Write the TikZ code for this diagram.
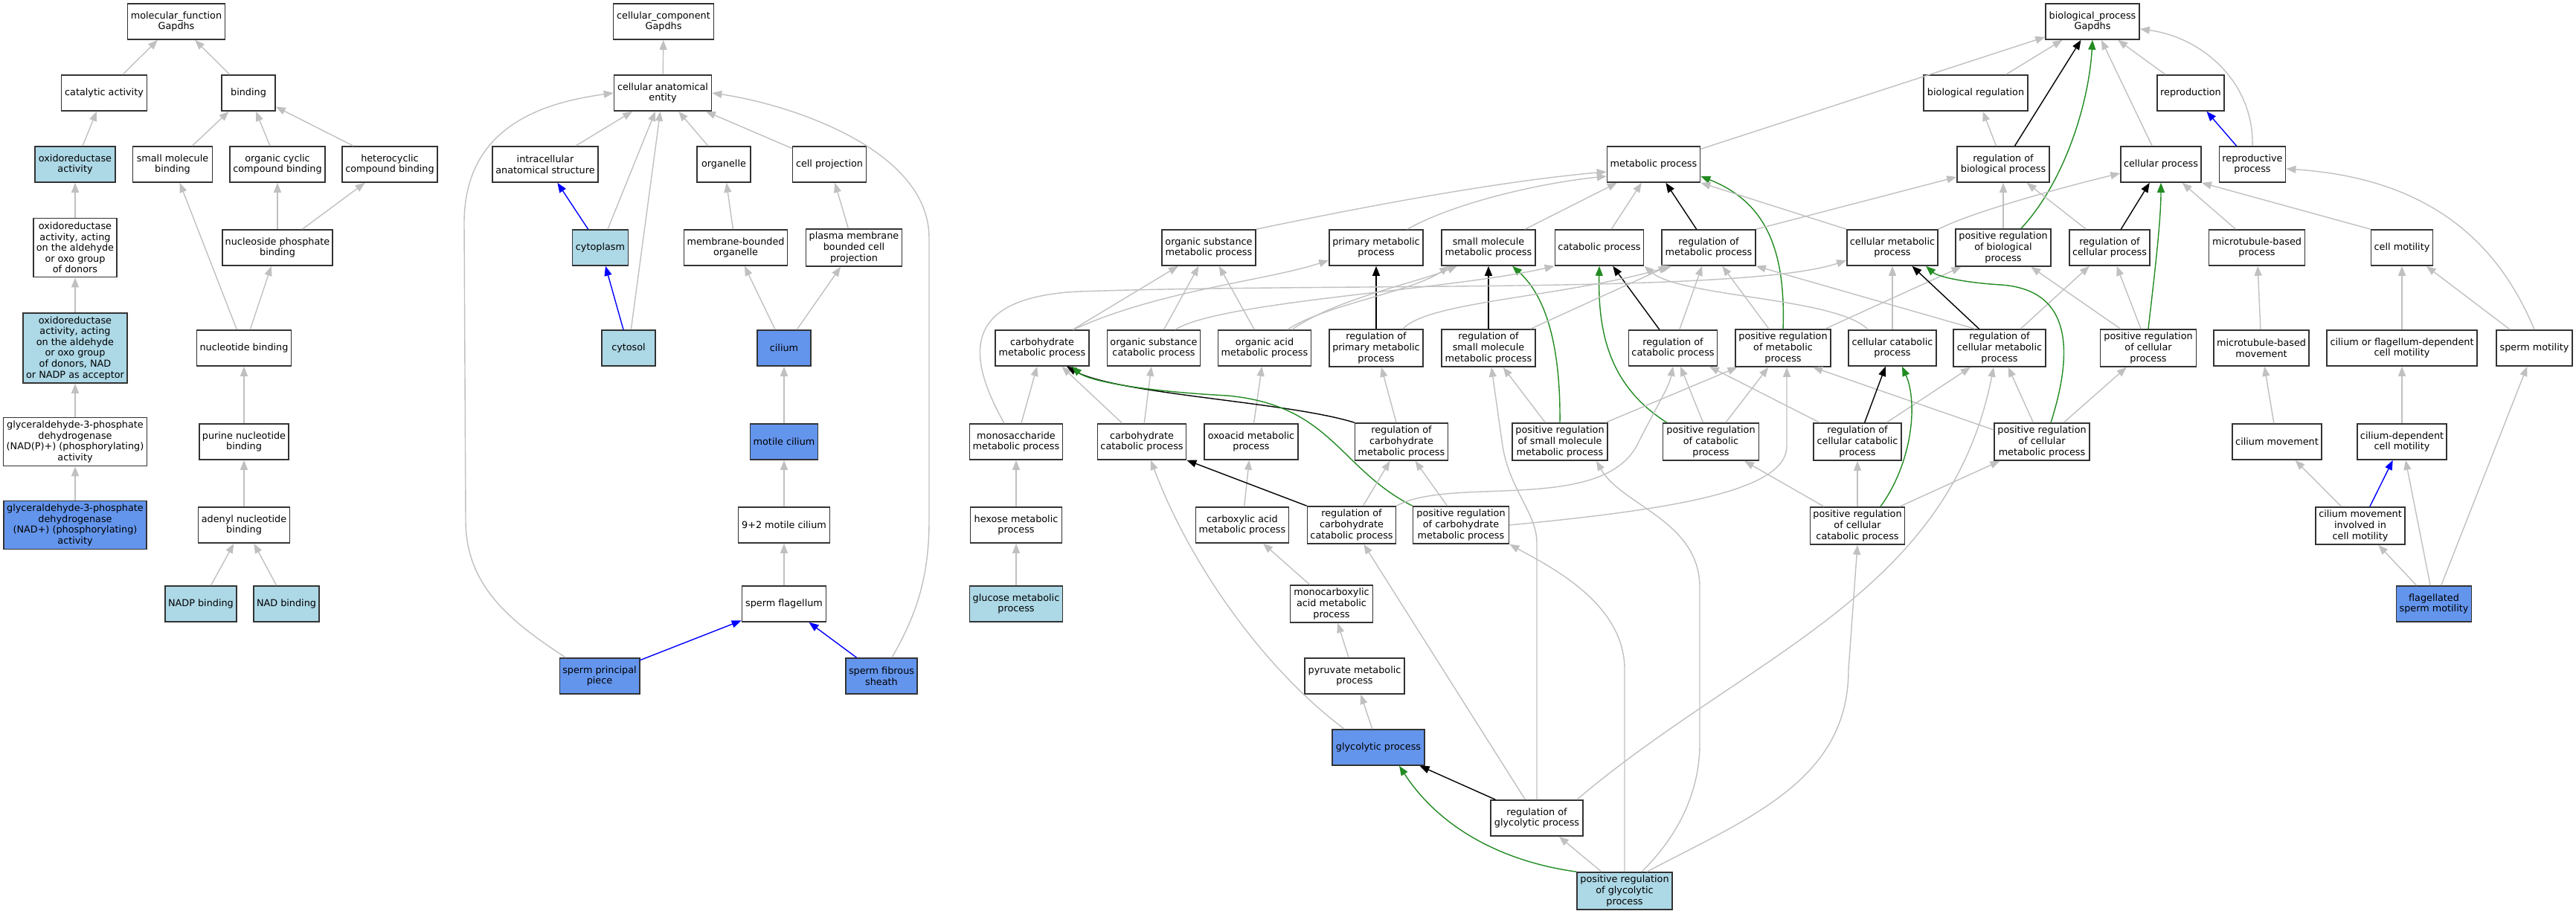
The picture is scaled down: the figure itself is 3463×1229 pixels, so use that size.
\documentclass[tikz,border=0pt]{standalone}
\usepackage{fontspec}
\setmainfont{DejaVu Sans}
\usetikzlibrary{arrows.meta,calc}

\definecolor{termlight}{HTML}{ADD8E6}
\definecolor{termcorn}{HTML}{6495ED}
\definecolor{edgegray}{HTML}{C0C0C0}
\definecolor{edgegreen}{HTML}{228B22}
\definecolor{boxline}{HTML}{333333}

\tikzset{every picture/.style={line width=0.75pt}}
\tikzset{
  gobox/.style={draw=boxline, line width=0.8pt, fill=white, rectangle, align=center,
    inner xsep=2pt, inner ysep=1pt, minimum height=24pt, font=\fontsize{6.4}{7.3}\selectfont},
  bw/.style={minimum width=#1*0.5pt},
  bh/.style={minimum height=#1*0.5pt},
  lit/.style={fill=termlight},
  ann/.style={fill=termcorn},
  isa/.style={draw=edgegray, line width=0.7pt, -{Triangle[length=6.5pt,width=5pt]}},
  regl/.style={isa, draw=black},
  posreg/.style={isa, draw=edgegreen},
  partof/.style={isa, draw=blue}
}

\begin{document}
\begin{tikzpicture}[x=0.5pt,y=0.5pt,yscale=-1,xscale=1]
\useasboundingbox (0,0) rectangle (3463,1229);

% Molecular function boxes
\node[gobox, bw=131] (mf) at (237,29) {molecular\_function\\Gapdhs};
\node[gobox, bw=115] (cat) at (140,125) {catalytic activity};
\node[gobox, bw=72] (bind) at (334,125) {binding};
\node[gobox, lit, bw=108] (oxr) at (101,221) {oxidoreductase\\activity};
\node[gobox, bw=107] (smb) at (232,221) {small molecule\\binding};
\node[gobox, bw=126] (ocb) at (373,221) {organic cyclic\\compound binding};
\node[gobox, bw=127] (hcb) at (524,221) {heterocyclic\\compound binding};
\node[gobox, bw=110, bh=79] (oxald) at (101,333) {oxidoreductase\\activity, acting\\on the aldehyde\\or oxo group\\of donors};
\node[gobox, bw=148] (npb) at (373,333) {nucleoside phosphate\\binding};
\node[gobox, lit, bw=140, bh=94] (oxnad) at (101,468) {oxidoreductase\\activity, acting\\on the aldehyde\\or oxo group\\of donors, NAD\\or NADP as acceptor};
\node[gobox, bw=127] (ntb) at (328,468) {nucleotide binding};
\node[gobox, bw=193, bh=65] (gapdhp) at (101,594) {glyceraldehyde-3-phosphate\\dehydrogenase\\(NAD(P)+) (phosphorylating)\\activity};
\node[gobox, bw=118] (pnb) at (328,594) {purine nucleotide\\binding};
\node[gobox, ann, bw=192, bh=65] (gapdh) at (101,706) {glyceraldehyde-3-phosphate\\dehydrogenase\\(NAD+) (phosphorylating)\\activity};
\node[gobox, bw=123] (anb) at (328,706) {adenyl nucleotide\\binding};
\node[gobox, lit, bw=95] (nadpb) at (270,812) {NADP binding};
\node[gobox, lit, bw=86] (nadb) at (385,812) {NAD binding};

% Cellular component boxes
\node[gobox, bw=135] (cc) at (892,29) {cellular\_component\\Gapdhs};
\node[gobox, bw=131] (cae) at (891,125) {cellular anatomical\\entity};
\node[gobox, bw=142] (ias) at (733,221) {intracellular\\anatomical structure};
\node[gobox, bw=72] (org) at (973,221) {organelle};
\node[gobox, bw=99] (cpj) at (1115,221) {cell projection};
\node[gobox, lit, bw=75] (cyto) at (807,333) {cytoplasm};
\node[gobox, bw=139] (mbo) at (989,333) {membrane-bounded\\organelle};
\node[gobox, bw=129, bh=50] (pmcp) at (1148,333) {plasma membrane\\bounded cell\\projection};
\node[gobox, lit, bw=72] (cytosol) at (845,468) {cytosol};
\node[gobox, ann, bw=72] (cil) at (1054,468) {cilium};
\node[gobox, ann, bw=91] (mcil) at (1054,594) {motile cilium};
\node[gobox, bw=123] (mc92) at (1054,706) {9+2 motile cilium};
\node[gobox, bw=113] (spfl) at (1054,812) {sperm flagellum};
\node[gobox, ann, bw=107] (sppp) at (806,909) {sperm principal\\piece};
\node[gobox, ann, bw=94] (spfs) at (1185,909) {sperm fibrous\\sheath};

% Biological process boxes
\node[gobox, bw=126] (bp) at (2813,29) {biological\_process\\Gapdhs};
\node[gobox, bw=140] (breg) at (2656,125) {biological regulation};
\node[gobox, bw=89] (repro) at (2945,125) {reproduction};
\node[gobox, bw=125] (met) at (2223,221) {metabolic process};
\node[gobox, bw=124] (rbp) at (2693,221) {regulation of\\biological process};
\node[gobox, bw=107] (cproc) at (2905,221) {cellular process};
\node[gobox, bw=88] (rproc) at (3028,221) {reproductive\\process};
\node[gobox, bw=126] (osmp) at (1625,333) {organic substance\\metabolic process};
\node[gobox, bw=126] (pmp) at (1850,333) {primary metabolic\\process};
\node[gobox, bw=126] (smmp) at (2001,333) {small molecule\\metabolic process};
\node[gobox, bw=118] (catp) at (2150,333) {catabolic process};
\node[gobox, bw=126] (rmp) at (2297,333) {regulation of\\metabolic process};
\node[gobox, bw=122] (cmp) at (2544,333) {cellular metabolic\\process};
\node[gobox, bw=128, bh=50] (prbp) at (2693,333) {positive regulation\\of biological\\process};
\node[gobox, bw=107] (rcp) at (2836,333) {regulation of\\cellular process};
\node[gobox, bw=129] (mtbp) at (3034,333) {microtubule-based\\process};
\node[gobox, bw=83] (cmot) at (3229,333) {cell motility};
\node[gobox, bw=126] (chmp) at (1401,468) {carbohydrate\\metabolic process};
\node[gobox, bw=123] (oscp) at (1551,468) {organic substance\\catabolic process};
\node[gobox, bw=125] (oamp) at (1700,468) {organic acid\\metabolic process};
\node[gobox, bw=125, bh=50] (rpmp) at (1850,468) {regulation of\\primary metabolic\\process};
\node[gobox, bw=126, bh=50] (rsmmp) at (2001,468) {regulation of\\small molecule\\metabolic process};
\node[gobox, bw=118] (rcatp) at (2249,468) {regulation of\\catabolic process};
\node[gobox, bw=128, bh=50] (prmp) at (2397,468) {positive regulation\\of metabolic\\process};
\node[gobox, bw=118] (ccatp) at (2544,468) {cellular catabolic\\process};
\node[gobox, bw=124, bh=50] (rcmp) at (2688,468) {regulation of\\cellular metabolic\\process};
\node[gobox, bw=129, bh=50] (prcp) at (2888,468) {positive regulation\\of cellular\\process};
\node[gobox, bw=128] (mtbm) at (3040,468) {microtubule-based\\movement};
\node[gobox, bw=202] (cfcm) at (3229,468) {cilium or flagellum-dependent\\cell motility};
\node[gobox, bw=102] (spmot) at (3407,468) {sperm motility};
\node[gobox, bw=125] (msmp) at (1366,594) {monosaccharide\\metabolic process};
\node[gobox, bw=118] (chcp) at (1535,594) {carbohydrate\\catabolic process};
\node[gobox, bw=126] (oxmp) at (1682,594) {oxoacid metabolic\\process};
\node[gobox, bw=125, bh=50] (rchmp) at (1884,594) {regulation of\\carbohydrate\\metabolic process};
\node[gobox, bw=128, bh=50] (prsmmp) at (2097,594) {positive regulation\\of small molecule\\metabolic process};
\node[gobox, bw=129, bh=50] (prcatp) at (2300,594) {positive regulation\\of catabolic\\process};
\node[gobox, bw=118, bh=50] (rccp) at (2497,594) {regulation of\\cellular catabolic\\process};
\node[gobox, bw=128, bh=50] (prcmp) at (2745,594) {positive regulation\\of cellular\\metabolic process};
\node[gobox, bw=120] (cilm) at (3061,594) {cilium movement};
\node[gobox, bw=120] (cdcm) at (3229,594) {cilium-dependent\\cell motility};
\node[gobox, bw=123] (hxmp) at (1366,706) {hexose metabolic\\process};
\node[gobox, bw=125] (camp) at (1670,706) {carboxylic acid\\metabolic process};
\node[gobox, bw=118, bh=50] (rchcp) at (1817,706) {regulation of\\carbohydrate\\catabolic process};
\node[gobox, bw=129, bh=50] (prchmp) at (1964,706) {positive regulation\\of carbohydrate\\metabolic process};
\node[gobox, bw=127, bh=50] (prccp) at (2497,707) {positive regulation\\of cellular\\catabolic process};
\node[gobox, bw=120, bh=50] (cmcm) at (3173,707) {cilium movement\\involved in\\cell motility};
\node[gobox, lit, bw=125] (glmp) at (1366,812) {glucose metabolic\\process};
\node[gobox, bw=111, bh=50] (mcamp) at (1790,812) {monocarboxylic\\acid metabolic\\process};
\node[gobox, ann, bw=101] (fsm) at (3272,812) {flagellated\\sperm motility};
\node[gobox, bw=134] (pyrmp) at (1821,909) {pyruvate metabolic\\process};
\node[gobox, ann, bw=124] (glyp) at (1853,1005) {glycolytic process};
\node[gobox, bw=124] (rglyp) at (2066,1100) {regulation of\\glycolytic process};
\node[gobox, lit, bw=128, bh=50] (prglyp) at (2184,1198) {positive regulation\\of glycolytic\\process};

% Molecular function connectors
\draw[isa] (cat) -- (mf);
\draw[isa] (bind) -- (mf);
\draw[isa] (oxr) -- (cat);
\draw[isa] (smb) -- (bind);
\draw[isa] (ocb) -- (bind);
\draw[isa] (hcb) -- (bind);
\draw[isa] (oxald) -- (oxr);
\draw[isa] (oxnad) -- (oxald);
\draw[isa] (gapdhp) -- (oxnad);
\draw[isa] (gapdh) -- (gapdhp);
\draw[isa] (npb) -- (ocb);
\draw[isa] (npb) -- (hcb);
\draw[isa] (ntb) -- (npb);
\draw[isa] (ntb) -- (smb);
\draw[isa] (pnb) -- (ntb);
\draw[isa] (anb) -- (pnb);
\draw[isa] (nadpb) -- (anb);
\draw[isa] (nadb) -- (anb);

% Cellular component connectors
\draw[isa] (cae) -- (cc);
\draw[isa] (ias) -- (cae);
\draw[partof] (cyto) -- (ias);
\draw[isa] (cyto) -- (cae);
\draw[partof] (cytosol) -- (cyto);
\draw[isa] (cytosol) -- (cae);
\draw[isa] (org) -- (cae);
\draw[isa] (cpj) -- (cae);
\draw[isa] (mbo) -- (org);
\draw[isa] (pmcp) -- (cpj);
\draw[isa] (cil) -- (mbo);
\draw[isa] (cil) -- (pmcp);
\draw[isa] (mcil) -- (cil);
\draw[isa] (mc92) -- (mcil);
\draw[isa] (spfl) -- (mc92);
\draw[partof] (sppp) -- (spfl);
\draw[partof] (spfs) -- (spfl);
\draw[isa] ($(sppp.north west)+(9,0)$) .. controls (690,838) and (626,790) .. (626,700) -- (624,300) .. controls (624,170) and (730,138) .. (cae.west);
\draw[isa] ($(spfs.north)+(14,0)$) .. controls (1230,830) and (1249,780) .. (1249,700) -- (1249,320) .. controls (1249,200) and (1060,140) .. (cae.east);

% Biological process connectors, upper part
\draw[isa] (breg) -- (bp);
\draw[isa] (repro) -- (bp);
\draw[isa] (met) -- (bp);
\draw[regl] (rbp) -- (bp);
\draw[posreg] ($(prbp.north)+(24,0)$) .. controls (2775,245) and (2808,140) .. (bp.south);
\draw[isa] (cproc) -- (bp);
\draw[isa] (rproc.north) .. controls (3030,110) and (2960,50) .. ($(bp.east)+(0,10)$);
\draw[partof] (rproc) -- (repro);
\draw[isa] (rbp) -- (breg);
\draw[isa] (prbp) -- (rbp);
\draw[isa] (rcp) -- (rbp);
\draw[regl] (rcp) -- (cproc);
\draw[posreg] (prcp.north) .. controls (2895,380) and (2905,300) .. (cproc.south);
\draw[isa] (prcp) -- (rcp);
\draw[isa] (prcp) -- (prbp);
\draw[isa] (mtbp) -- (cproc);
\draw[isa] (cmot.north west) -- (cproc.south east);
\draw[isa] (mtbm) -- (mtbp);
\draw[isa] (cfcm) -- (cmot);
\draw[isa] (spmot) -- (cmot);
\draw[isa] (spmot.north) .. controls (3360,330) and (3270,240) .. ($(rproc.east)+(0,6)$);
\draw[isa] (cilm) -- (mtbm);
\draw[isa] (cdcm) -- (cfcm);
\draw[isa] (cmcm) -- (cilm);
\draw[partof] (cmcm) -- (cdcm);
\draw[isa] (fsm) -- (cmcm);
\draw[isa] (fsm) -- (cdcm);
\draw[isa] (fsm) -- (spmot);

% Metabolic and regulation connectors
\draw[isa] (osmp.north east) .. controls (1800,285) and (2000,245) .. ($(met.west)+(0,10)$);
\draw[isa] ($(pmp.north)+(42,0)$) .. controls (1960,270) and (2080,245) .. ($(met.west)+(0,16)$);
\draw[isa] (smmp) -- (met);
\draw[isa] (catp) -- (met);
\draw[regl] (rmp) -- (met);
\draw[posreg] (prmp.north) .. controls (2401,330) and (2370,270) .. ($(met.east)+(0,16)$);
\draw[isa] (cmp.north west) -- (met.south east);
\draw[isa] (cmp.north east) .. controls (2650,285) and (2780,250) .. ($(cproc.west)+(0,12)$);
\draw[isa] (rmp.north east) -- ($(rbp.west)+(0,17)$);
\draw[isa] (prmp) -- (rmp);
\draw[isa] (prmp) -- (prbp);
\draw[regl] (rcatp) -- (catp);
\draw[isa] (rcatp) -- (rmp);
\draw[isa] ($(ccatp.north west)+(27,0)$) .. controls (2470,400) and (2260,400) .. (catp.south east);
\draw[isa] (ccatp) -- (cmp);
\draw[regl] (rcmp) -- (cmp);
\draw[isa] ($(rcmp.north)+(-33,0)$) -- (rmp.south east);
\draw[isa] (rcmp) -- (rcp);
\draw[isa] (prcmp) -- (rcmp);
\draw[isa] (prcmp) -- (prcp);
\draw[isa] ($(prcmp.west)+(0,-16)$) -- ($(prmp.south)+(40,0)$);
\draw[posreg] ($(prcmp.north)+(12,0)$) .. controls (2785,480) and (2790,390) .. (2690,383) .. controls (2640,380) and (2605,372) .. ($(cmp.south)+(45,0)$);
\draw[regl] (rccp) -- (ccatp);
\draw[isa] (rccp) -- (rcatp);
\draw[isa] (rccp) -- (rcmp);
\draw[posreg] ($(prccp.north)+(31,0)$) .. controls (2572,620) and (2578,540) .. ($(ccatp.south)+(13,0)$);
\draw[isa] (prccp) -- (rccp);
\draw[isa] (prccp) -- (prcatp);
\draw[isa] (prccp) -- (prcmp);
\draw[posreg] ($(prcatp.north west)+(6,0)$) .. controls (2165,520) and (2148,450) .. (catp.south);
\draw[isa] (prcatp) -- (rcatp);
\draw[isa] (prcatp) -- (prmp);
\draw[posreg] (prsmmp.north) .. controls (2098,470) and (2080,400) .. ($(smmp.south)+(32,0)$);
\draw[isa] (prsmmp) -- (rsmmp);
\draw[isa] (prsmmp) -- (prmp);
\draw[regl] (rsmmp) -- (smmp);
\draw[isa] (rsmmp) -- (rmp);
\draw[regl] (rpmp) -- (pmp);
\draw[isa] ($(rpmp.north)+(36,0)$) .. controls (1920,405) and (2100,400) .. ($(rmp.south)+(-50,0)$);

% Carbohydrate and glycolysis connectors
\draw[isa] (chmp) -- (osmp);
\draw[isa] ($(chmp.north)+(42,0)$) .. controls (1560,390) and (1700,378) .. ($(pmp.west)+(0,17)$);
\draw[isa] (oscp) -- (osmp);
\draw[isa] ($(oscp.north)+(29,0)$) .. controls (1640,405) and (1950,390) .. (catp.south west);
\draw[isa] (oamp) -- (osmp);
\draw[isa] ($(oamp.north)+(31,0)$) .. controls (1780,410) and (1900,392) .. ($(smmp.south)+(-53,0)$);
\draw[isa] ($(oamp.north)+(37,0)$) .. controls (1795,402) and (1905,380) .. ($(smmp.south)+(-42,0)$);
\draw[isa] (msmp) -- (chmp);
\draw[isa] ($(msmp.north)+(-16,0)$) .. controls (1300,480) and (1290,400) .. (1450,392) .. controls (1800,380) and (2350,395) .. ($(cmp.west)+(0,17)$);
\draw[isa] (chcp) -- (chmp);
\draw[isa] (chcp) -- (oscp);
\draw[isa] (oxmp) -- (oamp);
\draw[regl] (rchmp.north west) .. controls (1730,540) and (1500,530) .. ($(chmp.south)+(33,0)$);
\draw[isa] (rchmp) -- (rpmp);
\draw[posreg] (prchmp.north west) .. controls (1800,630) and (1790,545) .. (1650,532) .. controls (1520,525) and (1460,510) .. ($(chmp.south)+(40,0)$);
\draw[isa] (prchmp) -- (rchmp);
\draw[isa] (prchmp.east) .. controls (2250,685) and (2402,660) .. (2402,600) -- ($(prmp.south)+(5,0)$);
\draw[isa] (hxmp) -- (msmp);
\draw[isa] (glmp) -- (hxmp);
\draw[isa] (camp) -- (oxmp);
\draw[regl] (rchcp.north west) -- (chcp.south east);
\draw[isa] (rchcp) -- (rchmp);
\draw[isa] (rchcp.north east) .. controls (1950,640) and (2150,690) .. (2200,600) .. controls (2225,550) and (2244,520) .. (rcatp.south);
\draw[isa] (mcamp) -- (camp);
\draw[isa] (pyrmp) -- (mcamp);
\draw[isa] (glyp) -- (pyrmp);
\draw[isa] ($(glyp.north west)+(17,0)$) .. controls (1700,900) and (1600,760) .. ($(chcp.south)+(12,0)$);
\draw[regl] (rglyp) -- (glyp);
\draw[isa] (rglyp) -- (rchcp);
\draw[isa] (rglyp.north) -- (2066,730) .. controls (2066,690) and (2030,660) .. (2020,600) -- ($(rsmmp.south)+(4,0)$);
\draw[isa] ($(rglyp.north east)+(-9,0)$) .. controls (2350,880) and (2620,800) .. ($(rcmp.south)+(-8,0)$);
\draw[posreg] (prglyp.north west) .. controls (2030,1160) and (1940,1120) .. ($(glyp.south)+(28,0)$);
\draw[isa] (prglyp) -- (rglyp);
\draw[isa] (prglyp.north) -- (2184,900) .. controls (2184,810) and (2080,760) .. (prchmp.south east);
\draw[isa] ($(prglyp.north)+(23,0)$) .. controls (2260,1120) and (2285,1060) .. (2285,1000) -- (2285,790) .. controls (2285,700) and (2180,680) .. ($(prsmmp.south)+(49,0)$);
\draw[isa] ($(prglyp.north)+(30,0)$) .. controls (2350,1100) and (2485,1050) .. (2485,900) -- (prccp.south);

\end{tikzpicture}
\end{document}
